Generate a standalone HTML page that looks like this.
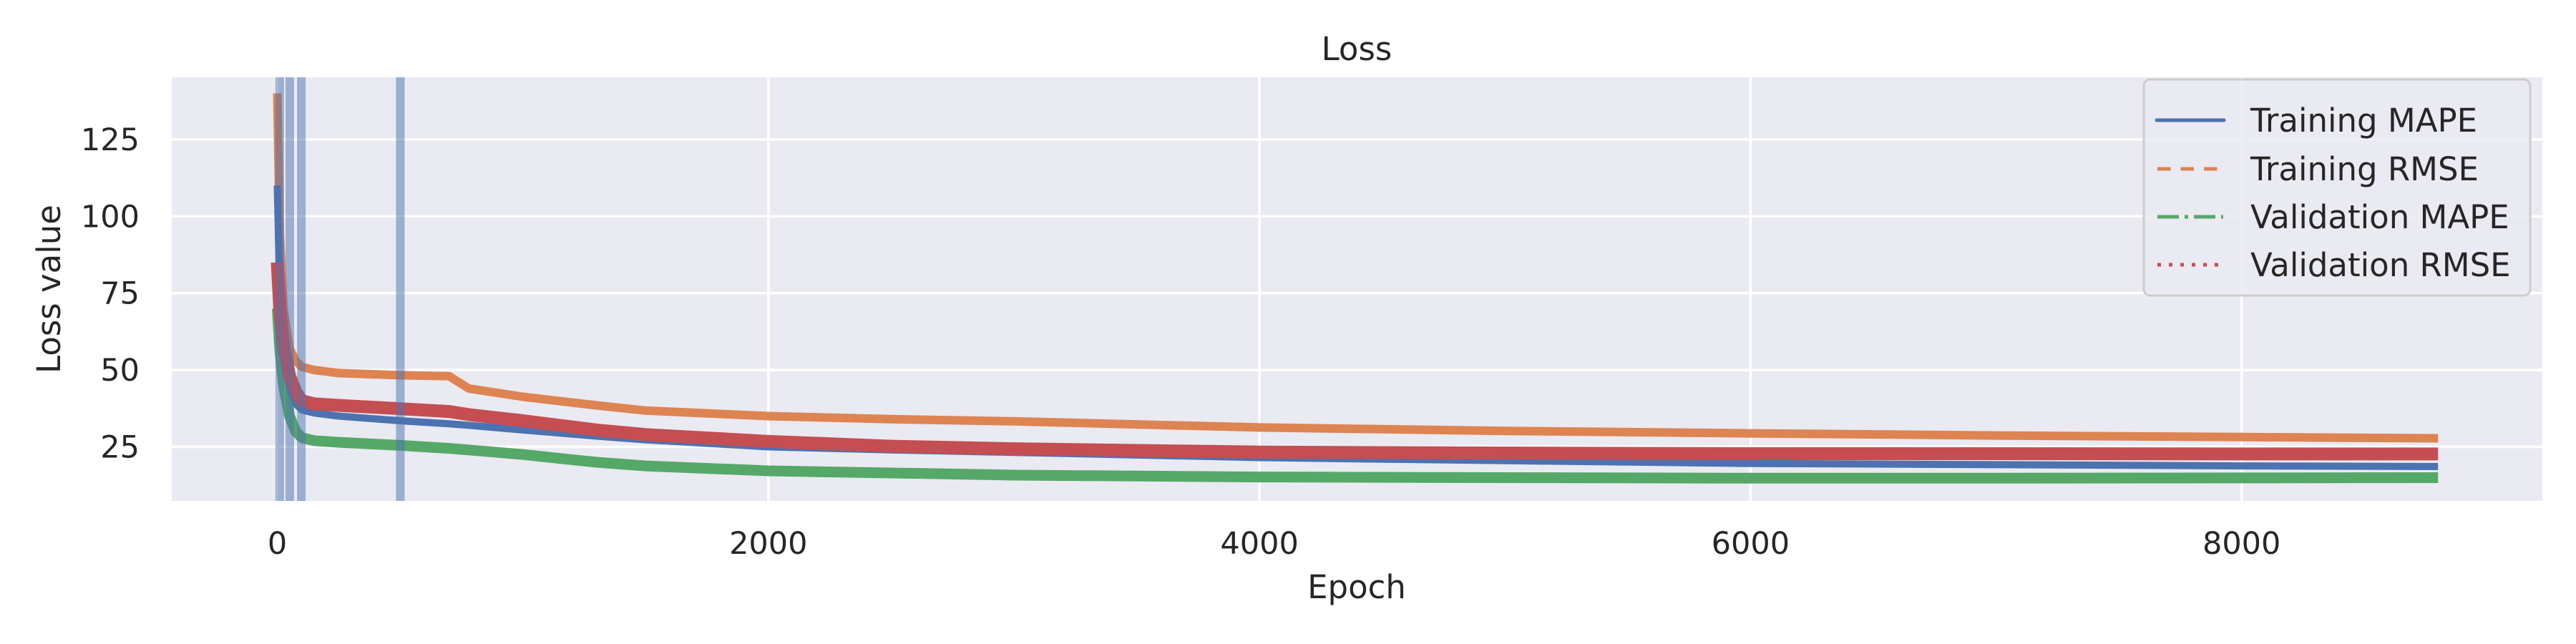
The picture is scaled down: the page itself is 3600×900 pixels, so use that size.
<!DOCTYPE html>
<html><head><meta charset="utf-8"><style>
html,body{margin:0;padding:0;background:#fff;}
svg{display:block;font-family:"DejaVu Sans","Liberation Sans",sans-serif;}
</style></head><body>
<svg id="chart" width="3600" height="900" viewBox="0 0 3600 900" xmlns="http://www.w3.org/2000/svg">
<rect x="240" y="108" width="3313" height="592" fill="#EAEAF2"/>
<g id="grid"></g>
<g id="series"></g>
<g id="spans"></g>
<g id="ticks" fill="#262626" font-size="43"></g>
<text x="1896" y="84" text-anchor="middle" font-size="45" fill="#262626">Loss</text>
<text x="1896" y="836" text-anchor="middle" font-size="45" fill="#262626">Epoch</text>
<text transform="translate(84,404) rotate(-90)" text-anchor="middle" font-size="45" fill="#262626">Loss value</text>
<g>
<rect x="2996" y="111" width="540" height="302" rx="9" fill="#EAEAF2" fill-opacity="0.85" stroke="#cccccc" stroke-width="3"/>
<g><line x1="3014" y1="168" x2="3108" y2="168" stroke="#4C72B0" stroke-width="5" stroke-linecap="round"/><text x="3145" y="184" font-size="45" fill="#262626">Training MAPE</text></g>
<g><line x1="3015" y1="236" x2="3105" y2="236" stroke="#DD8452" stroke-width="5" stroke-dasharray="18.5 14"/><text x="3145" y="252" font-size="45" fill="#262626">Training RMSE</text></g>
<g><line x1="3015" y1="303" x2="3107" y2="303" stroke="#55A868" stroke-width="5" stroke-dasharray="30 8 5 8"/><text x="3145" y="319" font-size="45" fill="#262626">Validation MAPE</text></g>
<g><line x1="3015" y1="370" x2="3105" y2="370" stroke="#C44E52" stroke-width="5" stroke-dasharray="5 11"/><text x="3145" y="386" font-size="45" fill="#262626">Validation RMSE</text></g>
</g>
</svg>
<script>
const epochs = [0,10,25,50,75,100,150,250,500,700,780,1000,1300,1500,2000,2500,3000,4000,5000,6000,7000,8000,8800];
const trainingRmse = [140,95,70,57,53,51,50,49,48.3,48,44,41.3,38.5,36.8,35,34,33.3,31.3,30.2,29.4,28.7,28.2,27.8];
const validationRmse = [85,70,58,48,43,40,39,38.5,37.4,36.5,35.5,33.5,30.5,29,26.8,25.2,24.4,23.3,23,22.8,22.8,22.7,22.7];
const trainingMape = [110,75,55,44,39,37,36,35,33.5,32.5,32,30.5,28.5,27.3,25,24,23.2,21.5,20.5,19.6,19.2,18.8,18.6];
const validationMape = [70,57,45,35,30,28,27,26.5,25.5,24.5,24,22.5,20,18.8,17.2,16.5,15.8,15.2,15,14.8,14.8,14.9,15];
const markerEpochs = [10,51,98,501];
const xTicks = [0,2000,4000,6000,8000];
const yTicks = [25,50,75,100,125];

const NS = "http://www.w3.org/2000/svg";
const PL = 240, PR = 3553, PT = 108, PB = 700;
function xs(e){ return 387.5 + e * 0.34315; }
function ys(v){ return 624.5 - (v - 25) * 4.296; }
function mk(tag, attrs, parent){ const el = document.createElementNS(NS, tag); for (const k in attrs) el.setAttribute(k, attrs[k]); parent.appendChild(el); return el; }

const grid = document.getElementById('grid');
const ticks = document.getElementById('ticks');
xTicks.forEach(t => {
  const l = mk('line', {x1: xs(t), x2: xs(t), y1: PT, y2: PB, stroke: '#fff', 'stroke-width': 3.5}, grid);
  
  
  const tx = mk('text', {x: xs(t), y: 774, 'text-anchor': 'middle'}, ticks);
  tx.textContent = t;
  
  
});
yTicks.forEach(t => {
  const l = mk('line', {x1: PL, x2: PR, y1: ys(t), y2: ys(t), stroke: '#fff', 'stroke-width': 3.5}, grid);
  
  
  const tx = mk('text', {x: 195, y: ys(t) + 15, 'text-anchor': 'end'}, ticks);
  tx.textContent = t;
  
  
});

const series = document.getElementById('series');
function drawSeries(vals, color, width, name){
  const pts = epochs.map((e, i) => xs(e).toFixed(1) + ',' + ys(vals[i]).toFixed(1)).join(' ');
  const p = mk('polyline', {points: pts, fill: 'none', stroke: color, 'stroke-width': width, 'stroke-linejoin': 'round', 'stroke-linecap': 'butt'}, series);
  
  
}
drawSeries(trainingRmse, '#DD8452', 12, 'training-rmse-line');
drawSeries(validationMape, '#55A868', 15, 'validation-mape-line');
drawSeries(trainingMape, '#4C72B0', 10, 'training-mape-line');
drawSeries(validationRmse, '#C44E52', 18, 'validation-rmse-line');

const spans = document.getElementById('spans');
markerEpochs.forEach(e => {
  const r = mk('rect', {x: xs(e) - 6, y: PT, width: 12, height: PB - PT, fill: '#4C72B0', 'fill-opacity': 0.5}, spans);
  
  
});
</script>
</body></html>
